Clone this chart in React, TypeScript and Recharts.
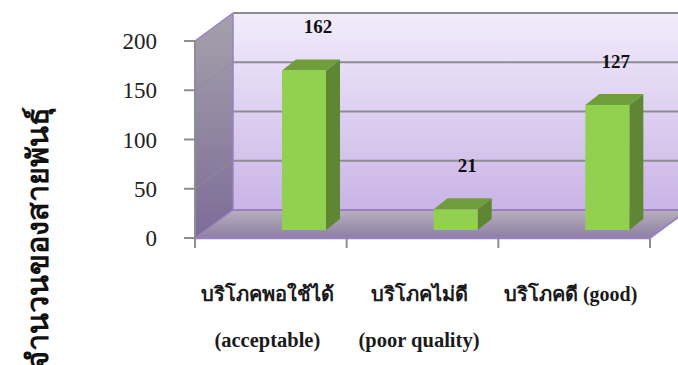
import { BarChart, Bar, XAxis, YAxis, LabelList } from 'recharts';

const categoryTh = ['บริโภคพอใช้ได้', 'บริโภคไม่ดี', 'บริโภคดี (good)'];
const categoryEn = ['(acceptable)', '(poor quality)', ''];
const strainCounts = [162, 21, 127];
const yTicks = [0, 50, 100, 150, 200];
const yAxisTitle = 'จำนวนของสายพันธุ์';

const chartData = categoryTh.map((name, i) => ({ name, count: strainCounts[i] }));

const WIDTH = 678;
const HEIGHT = 365;
const PLOT = { left: 195, top: 41, right: 650, bottom: 238 };
const PLOT_W = PLOT.right - PLOT.left;
const PLOT_H = PLOT.bottom - PLOT.top;

// fake 3D: how far the back wall sits from the front plane
const WALL_DX = 38;
const WALL_DY = -28;
// where the bars stand on the floor, and how deep they are
const BAR_SHIFT_X = 33;
const BAR_SHIFT_Y = -8;
const BAR_DX = 14;
const BAR_DY = -11;

const SERIF = '"Liberation Serif", "Times New Roman", serif';
const GRID = '#8f8d94';
const EDGE = '#9a80c0';

function Walls() {
  const { left, right, top, bottom } = PLOT;
  const backL = left + WALL_DX;
  const backR = right + WALL_DX;
  const backT = top + WALL_DY;
  const backB = bottom + WALL_DY;
  return (
    <g>
      <defs>
        <linearGradient id="backWall" x1="0" y1="0" x2="0" y2="1">
          <stop offset="0%" stopColor="#f2ecfb" />
          <stop offset="100%" stopColor="#c9b4e6" />
        </linearGradient>
        <linearGradient id="sideWall" x1="0" y1="0" x2="0" y2="1">
          <stop offset="0%" stopColor="#a5a1ab" />
          <stop offset="100%" stopColor="#7d6c98" />
        </linearGradient>
        <linearGradient id="floor" x1="0" y1="0" x2="0" y2="1">
          <stop offset="0%" stopColor="#b8b0be" />
          <stop offset="100%" stopColor="#8d7fa3" />
        </linearGradient>
      </defs>
      <rect x={backL} y={backT} width={backR - backL} height={backB - backT} fill="url(#backWall)" />
      <polygon
        points={`${left},${top} ${backL},${backT} ${backL},${backB} ${left},${bottom}`}
        fill="url(#sideWall)"
      />
      <polygon
        points={`${left},${bottom} ${backL},${backB} ${backR},${backB} ${right},${bottom}`}
        fill="url(#floor)"
      />
      {yTicks.map((t) => {
        const y = bottom - (t / 200) * PLOT_H;
        const isBase = t === 0;
        return (
          <g key={t}>
            <line
              x1={left}
              y1={y}
              x2={backL}
              y2={y + WALL_DY}
              stroke={isBase || t === 200 ? EDGE : GRID}
              strokeWidth={isBase || t === 200 ? 1.5 : 1}
            />
            <line x1={backL} y1={y + WALL_DY} x2={backR} y2={y + WALL_DY} stroke={isBase ? EDGE : GRID} strokeWidth={2} />
          </g>
        );
      })}
      <line x1={backL} y1={backT} x2={backL} y2={backB} stroke={EDGE} strokeWidth={1.5} />
      <line x1={right} y1={bottom} x2={backR} y2={backB} stroke={EDGE} strokeWidth={2} />
      <line x1={left} y1={bottom} x2={right} y2={bottom} stroke={EDGE} strokeWidth={2.5} />
      {/* category separators hanging under the floor edge */}
      {[0, 1, 2, 3].map((i) => {
        const x = left + (i * PLOT_W) / categoryTh.length;
        return <line key={i} x1={x} y1={bottom} x2={x} y2={bottom + 10} stroke={GRID} strokeWidth={2} />;
      })}
    </g>
  );
}

function Bar3D({ x, y, width, height }: any) {
  const l = x + BAR_SHIFT_X;
  const r = l + width;
  const t = y + BAR_SHIFT_Y;
  const b = t + height;
  return (
    <g>
      <polygon points={`${r},${t} ${r + BAR_DX},${t + BAR_DY} ${r + BAR_DX},${b + BAR_DY} ${r},${b}`} fill="#5f8632" />
      <polygon points={`${l},${t} ${l + BAR_DX},${t + BAR_DY} ${r + BAR_DX},${t + BAR_DY} ${r},${t}`} fill="#6f9d3b" />
      <rect x={l} y={t} width={width} height={height} fill="#92d050" />
    </g>
  );
}

function CategoryTick({ x, payload, index }: any) {
  const cx = x - 3.5;
  return (
    <text textAnchor="middle" fontFamily={SERIF} fontWeight="bold" fill="#1a1a1a">
      <tspan x={cx} y={301} fontSize={20}>{payload.value}</tspan>
      <tspan x={cx} y={347} fontSize={20.5}>{categoryEn[index]}</tspan>
    </text>
  );
}

// the values float above the bars, not quite centred on the front face
const labelNudge = [14, 11.5, 8.5];

function ValueLabel({ x, y, width, value, index }: any) {
  return (
    <text
      x={x + BAR_SHIFT_X + width / 2 + labelNudge[index]}
      y={y + BAR_SHIFT_Y - 37}
      textAnchor="middle"
      fontFamily={SERIF}
      fontWeight="bold"
      fontSize={19}
      fill="#111"
    >
      {value}
    </text>
  );
}

export default function App() {
  return (
    <div style={{ width: WIDTH, height: HEIGHT, overflow: 'hidden', background: '#fff' }}>
      <style>{'body{margin:0}'}</style>
      <BarChart
        width={WIDTH}
        height={HEIGHT}
        data={chartData}
        margin={{ top: PLOT.top, right: WIDTH - PLOT.right, bottom: 0, left: 0 }}
      >
        <Walls />
        <XAxis
          dataKey="name"
          height={HEIGHT - PLOT.bottom}
          axisLine={false}
          tickLine={false}
          interval={0}
          tick={<CategoryTick />}
        />
        <YAxis
          width={PLOT.left}
          domain={[0, 200]}
          ticks={yTicks}
          interval={0}
          tickSize={11}
          tickMargin={27}
          axisLine={{ stroke: GRID, strokeWidth: 2 }}
          tickLine={{ stroke: GRID, strokeWidth: 2 }}
          tick={{ fontFamily: SERIF, fontSize: 23, fill: '#222' }}
        />
        <Bar dataKey="count" barSize={44} shape={<Bar3D />} isAnimationActive={false}>
          <LabelList dataKey="count" content={<ValueLabel />} />
        </Bar>
        <text
          transform="translate(48, 238) rotate(-90)"
          textAnchor="middle"
          fontFamily={SERIF}
          fontWeight="bold"
          fontSize={29}
          textLength={262}
          lengthAdjust="spacingAndGlyphs"
          fill="#111"
        >
          {yAxisTitle}
        </text>
      </BarChart>
    </div>
  );
}
